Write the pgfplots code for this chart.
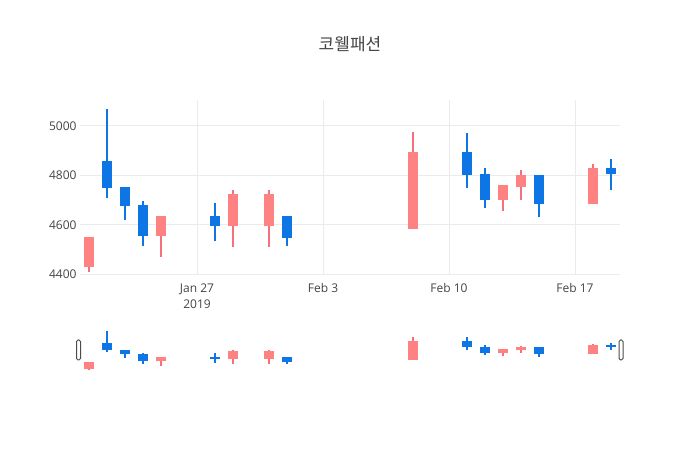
\documentclass[border=0pt]{standalone}
\usepackage{pgfplots}
\pgfplotsset{compat=1.18}
\usepackage{pgfplotstable}
\usepackage{fontspec}
\setmainfont{Open Sans}
\newfontfamily\cjk{Noto Sans CJK KR}
\definecolor{incbody}{RGB}{255,130,130}
\definecolor{incwick}{RGB}{245,112,120}
\definecolor{decbody}{RGB}{13,118,228}
\definecolor{txt}{RGB}{68,68,68}
\definecolor{gridc}{RGB}{235,235,235}

% day numbers: Jan 21 = 21, Feb 1 = 32, Feb 19 = 50
\pgfplotstableread{
x o h l c
21 4430 4550 4410 4550
25 4555 4635 4470 4635
29 4595 4740 4510 4725
31 4595 4740 4510 4725
39 4585 4975 4585 4895
44 4700 4760 4655 4760
45 4755 4820 4700 4800
49 4685 4845 4685 4830
}\inc
\pgfplotstableread{
x o h l c
22 4860 5070 4710 4750
23 4755 4755 4620 4675
24 4680 4695 4515 4555
28 4635 4690 4535 4595
32 4635 4635 4515 4545
42 4895 4970 4750 4800
43 4805 4830 4670 4700
46 4800 4800 4630 4685
50 4830 4865 4740 4805
}\dec

\pgfplotsset{
  candle/.style 2 args={draw=none, no markers, forget plot,
    error bars/.cd, y dir=plus, y explicit, error mark=none,
    error bar style={line width=#2, draw=#1, line cap=butt}},
}

\begin{document}
\begin{tikzpicture}
\useasboundingbox (0,0) rectangle (700bp,450bp);
\node[text=txt, font=\fontsize{17bp}{20bp}\cjk] at (350bp,406bp) {코웰패션};

\begin{axis}[
  at={(80bp,175bp)}, anchor=south west,
  scale only axis, width=540bp, height=175bp,
  xmin=20.5, xmax=50.5, ymin=4397, ymax=5105,
  axis line style={draw=none}, tick style={draw=none},
  grid=major, major grid style={draw=gridc, line width=1bp},
  xtick={27,34,41,48},
  xticklabels={{Jan 27\\2019},{Feb 3},{Feb 10},{Feb 17}},
  ytick={4400,4600,4800,5000},
  /pgf/number format/assume math mode=true,
  yticklabel={\pgfmathprintnumber[1000 sep={}]{\tick}},
  every tick label/.append style={text=txt},
  xticklabel style={font=\fontsize{12bp}{16bp}\selectfont, align=center, yshift=-5bp},
  yticklabel style={font=\fontsize{12bp}{14bp}\selectfont},
]
\addplot[candle={incwick}{2bp}] table[x=x, y=l, y error plus expr=\thisrow{h}-\thisrow{l}] {\inc};
\addplot[candle={incbody}{10bp}] table[x=x, y=o, y error plus expr=\thisrow{c}-\thisrow{o}] {\inc};
\addplot[candle={decbody}{2bp}] table[x=x, y=l, y error plus expr=\thisrow{h}-\thisrow{l}] {\dec};
\addplot[candle={decbody}{10bp}] table[x=x, y=c, y error plus expr=\thisrow{o}-\thisrow{c}] {\dec};
\end{axis}

\begin{axis}[
  at={(80bp,78bp)}, anchor=south west,
  scale only axis, width=540bp, height=43bp,
  xmin=20.5, xmax=50.5, ymin=4377, ymax=5103,
  hide axis, clip=false,
]
\addplot[candle={incwick}{2bp}] table[x=x, y=l, y error plus expr=\thisrow{h}-\thisrow{l}] {\inc};
\addplot[candle={incbody}{10bp}] table[x=x, y=o, y error plus expr=\thisrow{c}-\thisrow{o}] {\inc};
\addplot[candle={decbody}{2bp}] table[x=x, y=l, y error plus expr=\thisrow{h}-\thisrow{l}] {\dec};
\addplot[candle={decbody}{10bp}] table[x=x, y=c, y error plus expr=\thisrow{o}-\thisrow{c}] {\dec};
\draw[draw=black!70, fill=white, line width=1bp, rounded corners=1.5bp]
  ([xshift=-3.5bp]rel axis cs:0,0.28) rectangle ([xshift=0.5bp]rel axis cs:0,0.745);
\draw[draw=black!70, fill=white, line width=1bp, rounded corners=1.5bp]
  ([xshift=-1bp]rel axis cs:1,0.28) rectangle ([xshift=3bp]rel axis cs:1,0.745);
\end{axis}
\end{tikzpicture}
\end{document}
